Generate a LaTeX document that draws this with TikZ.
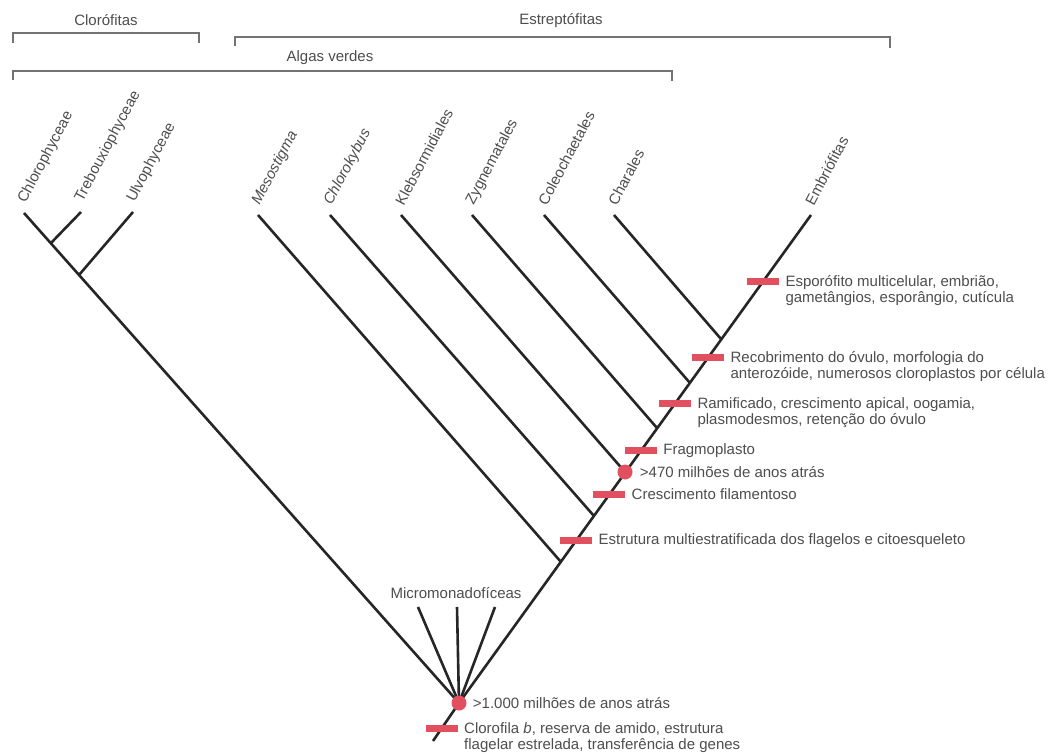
\documentclass[tikz,border=0pt]{standalone}
\usepackage{fontspec}
\setmainfont{Liberation Sans}
\usetikzlibrary{positioning}
\definecolor{Barra}{RGB}{226,80,96}
\definecolor{Texto}{RGB}{78,78,78}
\definecolor{Linha}{RGB}{38,38,38}

\tikzset{
  ramo/.style={draw=Linha, line width=2.6pt},
  chave/.style={draw=black!55, line width=1.5pt},
  marca/.style={fill=Barra, minimum width=32pt, minimum height=7pt, inner sep=0pt},
  ponto/.style={circle, fill=Barra, minimum size=15pt, inner sep=0pt},
  taxon/.style={anchor=west, rotate=62, inner sep=0pt, text=Texto},
  nota/.style={align=left, text=Texto, inner sep=0pt},
}

\begin{document}
\begin{tikzpicture}[x=1pt, y=-1pt, font=\fontsize{15pt}{16pt}\selectfont]
    \fill[white] (0,0) rectangle (1050,754);
    \useasboundingbox (0,0) rectangle (1050,754);

    % grupos
    \node[text=Texto] (clor) at (106,20) {Clorófitas};
    \node[text=Texto] (estr) at (561,21) {Estreptófitas};
    \node[text=Texto] (alga) at (330,58) {Algas verdes};
    \draw[chave] (13,43) -- (13,33) -- (199,33) -- (199,43);
    \draw[chave] (235,46) -- (235,37) -- (890,37) -- (890,48);
    \draw[chave] (13,80) -- (13,71) -- (672,71) -- (672,81);

    % pontas e nos
    \coordinate (raiz) at (459,703);
    \coordinate (base) at (433,741);
    \coordinate (embr) at (811,215);
    \coordinate (chl) at (24,213);
    \coordinate (tre) at (81,212);
    \coordinate (ulv) at (133,212);
    \coordinate (jtre) at (51,243);
    \coordinate (julv) at (79,275);
    \coordinate (mes) at (258,215);
    \coordinate (jmes) at (561,562);
    \coordinate (chk) at (330,215);
    \coordinate (jchk) at (594,516);
    \coordinate (kle) at (401,215);
    \coordinate (jkle) at (625,472);
    \coordinate (zyg) at (472,215);
    \coordinate (jzyg) at (657,428);
    \coordinate (col) at (544,215);
    \coordinate (jcol) at (690,383);
    \coordinate (cha) at (614,215);
    \coordinate (jcha) at (721,339);
    \coordinate (mic1) at (418,607);
    \coordinate (mic2) at (457,607);
    \coordinate (mic3) at (495,607);

    \draw[ramo] (chl) -- (raiz) -- (embr);
    \draw[ramo] (raiz) -- (base);
    \draw[ramo] (jtre) -- (tre);
    \draw[ramo] (julv) -- (ulv);
    \draw[ramo] (mes) -- (jmes);
    \draw[ramo] (chk) -- (jchk);
    \draw[ramo] (kle) -- (jkle);
    \draw[ramo] (zyg) -- (jzyg);
    \draw[ramo] (col) -- (jcol);
    \draw[ramo] (cha) -- (jcha);
    \draw[ramo] (raiz) -- (mic1);
    \draw[ramo] (raiz) -- (mic2);
    \draw[ramo] (raiz) -- (mic3);

    % nomes
    \node[taxon] (lchl) at ([xshift=-2pt,yshift=11pt]chl) {Chlorophyceae};
    \node[taxon] (ltre) at ([xshift=-2pt,yshift=11pt]tre) {Trebouxiophyceae};
    \node[taxon] (lulv) at ([xshift=-2pt,yshift=11pt]ulv) {Ulvophyceae};
    \node[taxon] (lmes) at ([xshift=-2pt,yshift=11pt]mes) {\itshape Mesostigma};
    \node[taxon] (lchk) at ([xshift=-2pt,yshift=11pt]chk) {\itshape Chlorokybus};
    \node[taxon] (lkle) at ([xshift=-2pt,yshift=11pt]kle) {Klebsormidiales};
    \node[taxon] (lzyg) at ([xshift=-2pt,yshift=11pt]zyg) {Zygnematales};
    \node[taxon] (lcol) at ([xshift=-2pt,yshift=11pt]col) {Coleochaetales};
    \node[taxon] (lcha) at ([xshift=-2pt,yshift=11pt]cha) {Charales};
    \node[taxon] (lemb) at ([xshift=-2pt,yshift=11pt]embr) {Embriófitas};
    \node[text=Texto] (lmic) at (456,593) {Micromonadofíceas};

    % caracteres
    \path (raiz) -- (embr)
        node[marca, pos=0.864] (esp) {}
        node[marca, pos=0.708] (rec) {}
        node[marca, pos=0.614] (ram) {}
        node[marca, pos=0.517] (fra) {}
        node[marca, pos=0.427] (cre) {}
        node[marca, pos=0.333] (est) {};
    \path (raiz) -- (base) node[marca, pos=0.66] (clf) {};
    \node[ponto] (p470) at (jkle) {};
    \node[ponto] (p1000) at (raiz) {};

    \node[nota, right=6pt of esp, anchor=north west, yshift=6pt] (tesp)
        {Esporófito multicelular, embrião,\\gametângios, esporângio, cutícula};
    \node[nota, right=6pt of rec, anchor=north west, yshift=6pt] (trec)
        {Recobrimento do óvulo, morfologia do\\anterozóide, numerosos cloroplastos por célula};
    \node[nota, right=6pt of ram, anchor=north west, yshift=6pt] (tram)
        {Ramificado, crescimento apical, oogamia,\\plasmodesmos, retenção do óvulo};
    \node[nota, right=6pt of fra] (tfra) {Fragmoplasto};
    \node[nota, right=7pt of p470] (t470) {>470 milhões de anos atrás};
    \node[nota, right=6pt of cre] (tcre) {Crescimento filamentoso};
    \node[nota, right=6pt of est] (test) {Estrutura multiestratificada dos flagelos e citoesqueleto};
    \node[nota, right=6pt of p1000] (t1000) {>1.000 milhões de anos atrás};
    \node[nota, right=6pt of clf, anchor=north west, yshift=6pt] (tclf)
        {Clorofila \textit{b}, reserva de amido, estrutura\\flagelar estrelada, transferência de genes};
\end{tikzpicture}
\end{document}
